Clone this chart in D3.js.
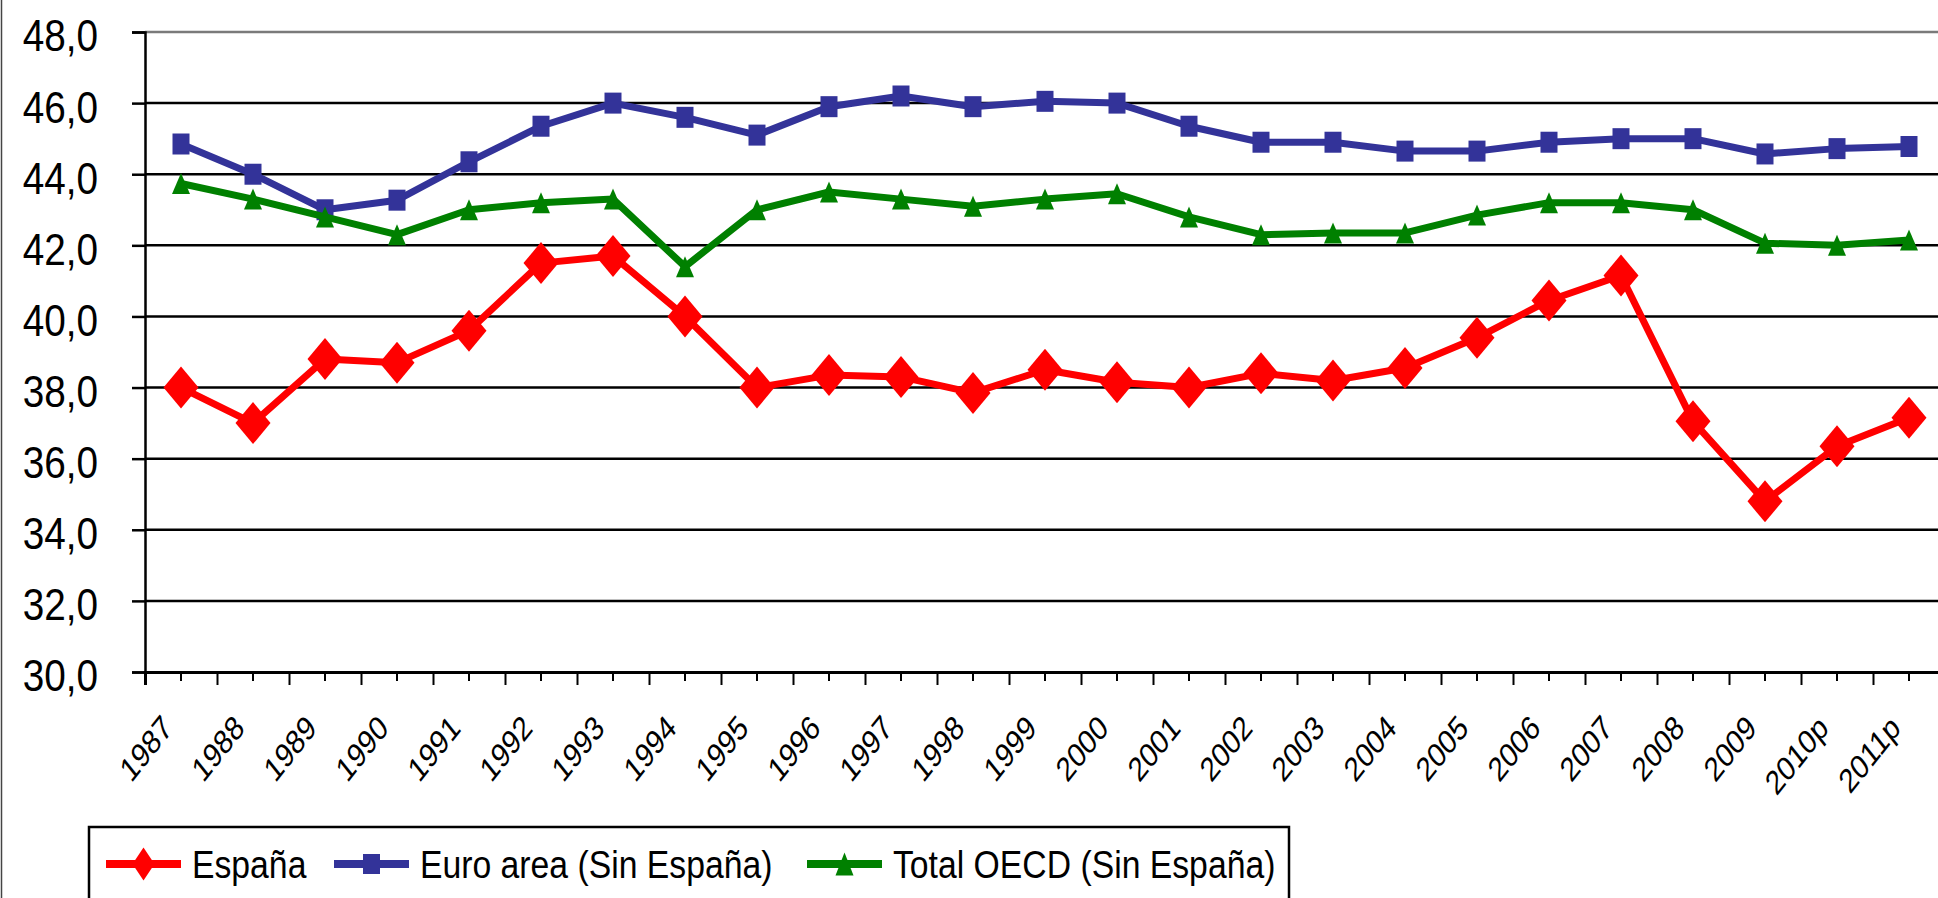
<!DOCTYPE html>
<html>
<head>
<meta charset="utf-8">
<script src="https://cdn.jsdelivr.net/npm/d3@7"></script>
<style>
  html, body { margin: 0; padding: 0; background: #fff; }
  svg { display: block; font-family: "Liberation Sans", Arial, sans-serif; }
</style>
</head>
<body>
<svg id="chart"></svg>
<script>
// categories
const years = ['1987', '1988', '1989', '1990', '1991', '1992', '1993', '1994', '1995', '1996',
    '1997', '1998', '1999', '2000', '2001', '2002', '2003', '2004', '2005', '2006',
    '2007', '2008', '2009', '2010p', '2011p'];

// series values
const espana = [38.0, 37.0, 38.8, 38.7, 39.6, 41.5, 41.7, 40.0, 38.0, 38.35,
    38.3, 37.85, 38.5, 38.15, 38.0, 38.4, 38.2, 38.55, 39.4, 40.45,
    41.15, 37.05, 34.8, 36.35, 37.15];
const euroArea = [44.85, 44.0, 43.0, 43.27, 44.35, 45.35, 46.0, 45.6, 45.1, 45.9,
    46.2, 45.9, 46.05, 46.0, 45.35, 44.9, 44.9, 44.65, 44.65, 44.9,
    45.0, 45.0, 44.57, 44.72, 44.78];
const totalOecd = [43.74, 43.3, 42.8, 42.3, 43.0, 43.2, 43.3, 41.4, 43.0, 43.5,
    43.3, 43.1, 43.3, 43.45, 42.8, 42.3, 42.35, 42.35, 42.85, 43.2,
    43.2, 43.0, 42.06, 42.0, 42.15];

// tick labels
const yTicks = [30, 32, 34, 36, 38, 40, 42, 44, 46, 48];
const seriesNames = ['España', 'Euro area (Sin España)', 'Total OECD (Sin España)'];

const width = 1938;
const height = 898;
const plotLeft = 145, plotRight = 1945, plotTop = 32, plotBottom = 672;

const svg = d3.select('#chart')
    .attr('width', width)
    .attr('height', height);

const x = d3.scaleBand().domain(years).range([plotLeft, plotRight]).padding(0);
const xEdge = d3.scaleLinear().domain([0, years.length]).range([plotLeft, plotRight]);
const y = d3.scaleLinear().domain([30, 48]).range([plotBottom, plotTop]);
const cx = d => x(d) + x.bandwidth() / 2;

// outer frame line on the left
svg.append('line')
    .attr('x1', 1.5).attr('x2', 1.5)
    .attr('y1', 0).attr('y2', height)
    .attr('stroke', '#444').attr('stroke-width', 1.5);

// gridlines
svg.append('g')
    .selectAll('line')
    .data(yTicks.filter(t => t > 30 && t < 48))
    .join('line')
    .attr('x1', plotLeft).attr('x2', width)
    .attr('y1', d => y(d)).attr('y2', d => y(d))
    .attr('stroke', '#000').attr('stroke-width', 2.5);

// plot area top border (grey)
svg.append('line')
    .attr('x1', plotLeft).attr('x2', width)
    .attr('y1', y(48)).attr('y2', y(48))
    .attr('stroke', '#7a7a7a').attr('stroke-width', 2.5);

// y axis
const yLabelScale = 0.88;
const yAxis = svg.append('g')
    .attr('transform', `translate(${plotLeft},0)`)
    .call(d3.axisLeft(y)
        .tickValues(yTicks)
        .tickSize(13)
        .tickPadding(34)
        .tickFormat(d => d3.format('.1f')(d).replace('.', ',')));
yAxis.select('.domain').attr('stroke', '#000').attr('stroke-width', 2.5);
yAxis.selectAll('.tick line').attr('stroke', '#000').attr('stroke-width', 2.5);
yAxis.selectAll('.tick text')
    .attr('font-size', 44)
    .attr('fill', '#000')
    .attr('x', -47 / yLabelScale)
    .attr('dy', '0.43em')
    .attr('transform', `scale(${yLabelScale},1)`)
    .attr('font-family', '"Liberation Sans", Arial, sans-serif');

// x axis: long ticks at category edges, short ticks at centers
const xMajor = svg.append('g')
    .attr('transform', `translate(0,${plotBottom})`)
    .call(d3.axisBottom(xEdge).tickValues(d3.range(0, years.length + 1)).tickSize(13).tickFormat(''));
xMajor.select('.domain').attr('stroke', '#000').attr('stroke-width', 3);
xMajor.selectAll('.tick line').attr('stroke', '#000').attr('stroke-width', 2);

const xMinor = svg.append('g')
    .attr('transform', `translate(0,${plotBottom})`)
    .call(d3.axisBottom(x).tickSize(9).tickFormat(''));
xMinor.select('.domain').remove();
xMinor.selectAll('.tick line').attr('stroke', '#000').attr('stroke-width', 2);

// x labels, rotated
svg.append('g')
    .selectAll('text')
    .data(years)
    .join('text')
    .attr('transform', d => `translate(${cx(d) - 7},${plotBottom + 58}) scale(0.8,1) rotate(-45)`)
    .attr('text-anchor', 'end')
    .attr('font-size', 34)
    .attr('fill', '#000')
    .text(d => d);

// marker shapes
function diamond(w, h) {
    return `M0,${-h / 2}L${w / 2},0L0,${h / 2}L${-w / 2},0Z`;
}
function square(w, h) {
    return `M${-w / 2},${-h / 2}H${w / 2}V${h / 2}H${-w / 2}Z`;
}
function triangle(w, h) {
    return `M0,${-h / 2}L${w / 2},${h / 2}H${-w / 2}Z`;
}

const series = [
    { name: seriesNames[0], values: espana, color: '#ff0000', marker: diamond(35, 42), legendMarker: diamond(22, 33) },
    { name: seriesNames[1], values: euroArea, color: '#333399', marker: square(17, 21), legendMarker: square(17, 20) },
    { name: seriesNames[2], values: totalOecd, color: '#008000', marker: triangle(18, 21), legendMarker: triangle(18, 23) }
];

const line = d3.line()
    .x((d, i) => cx(years[i]))
    .y(d => y(d));

series.forEach(s => {
    const g = svg.append('g');
    g.append('path')
        .datum(s.values)
        .attr('fill', 'none')
        .attr('stroke', s.color)
        .attr('stroke-width', 7)
        .attr('stroke-linejoin', 'round')
        .attr('d', line);
    g.selectAll('path.marker')
        .data(s.values)
        .join('path')
        .attr('class', 'marker')
        .attr('transform', (d, i) => `translate(${cx(years[i])},${y(d)})`)
        .attr('fill', s.color)
        .attr('d', s.marker);
});

// legend
const legend = svg.append('g');
legend.append('rect')
    .attr('x', 89).attr('y', 827)
    .attr('width', 1200).attr('height', 100)
    .attr('fill', '#fff')
    .attr('stroke', '#000').attr('stroke-width', 2.5);

const legendX = [106, 334, 807];
series.forEach((s, i) => {
    const g = legend.append('g').attr('transform', `translate(${legendX[i]},864)`);
    g.append('line')
        .attr('x1', 0).attr('x2', 75)
        .attr('stroke', s.color).attr('stroke-width', 8);
    g.append('path')
        .attr('transform', 'translate(37.5,0)')
        .attr('fill', s.color)
        .attr('d', s.legendMarker);
    g.append('text')
        .attr('transform', 'translate(86,14) scale(0.865,1)')
        .attr('font-size', 39)
        .attr('fill', '#000')
        .text(s.name);
});
</script>
</body>
</html>
